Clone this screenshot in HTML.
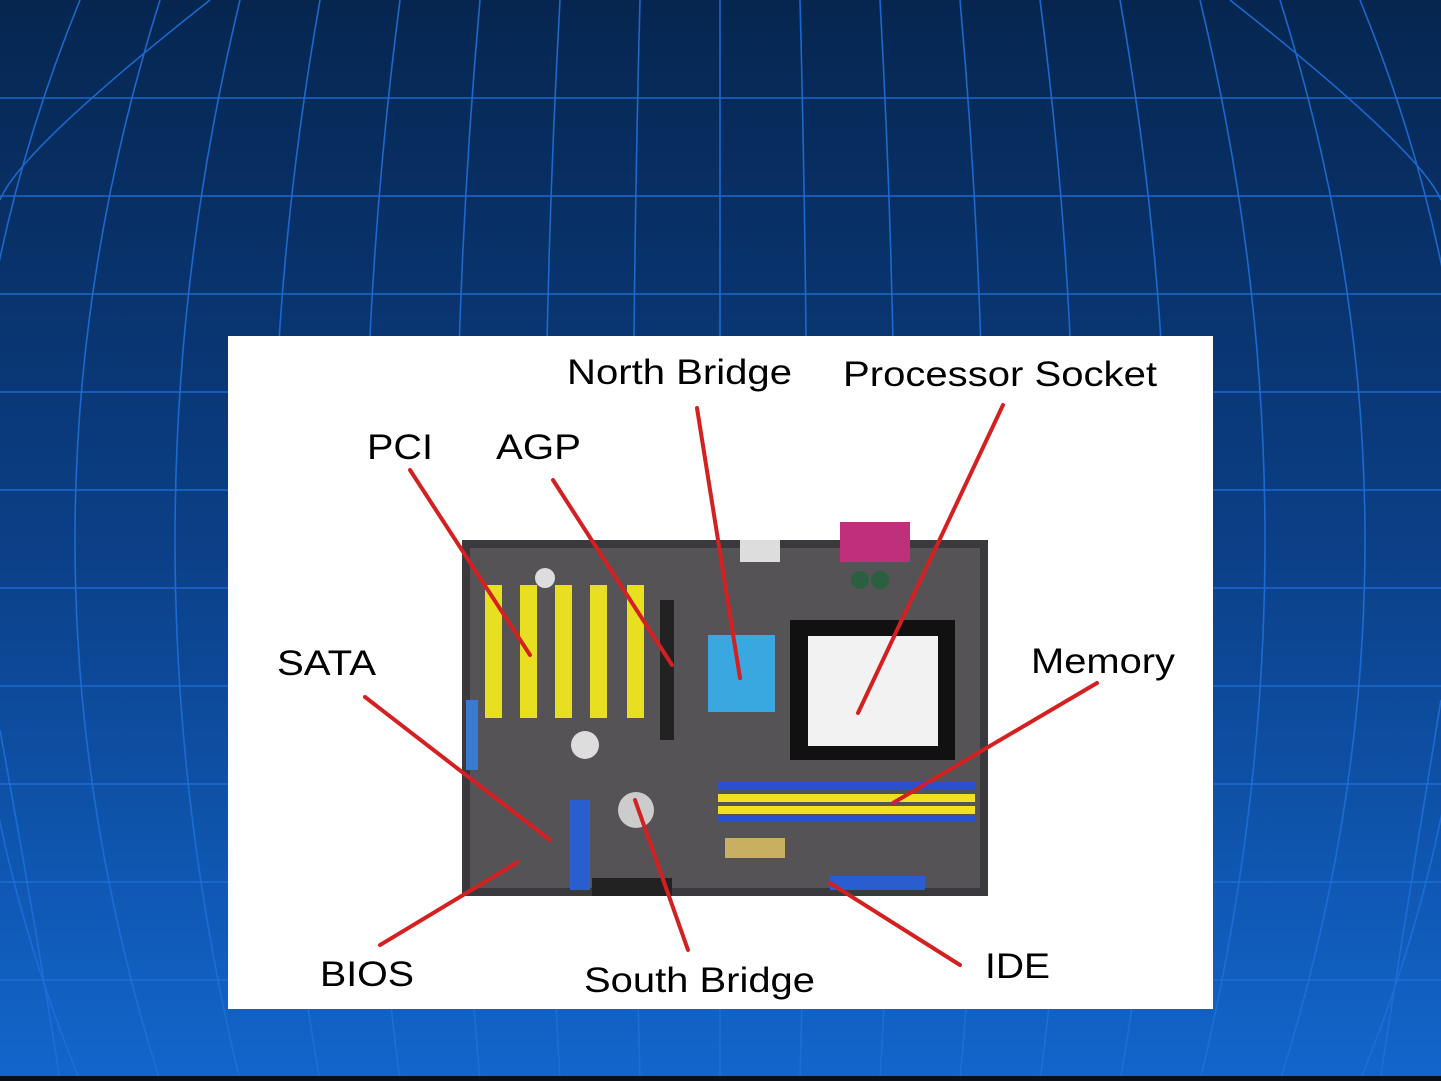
<!DOCTYPE html>
<html><head><meta charset="utf-8"><style>
html,body{margin:0;padding:0;width:1441px;height:1081px;overflow:hidden}
svg{display:block}
text{font-family:"Liberation Sans",sans-serif;font-size:35px;fill:#000}
</style></head><body>
<svg width="1441" height="1081" viewBox="0 0 1441 1081" xmlns="http://www.w3.org/2000/svg">
<defs>
<linearGradient id="bg" x1="0" y1="0" x2="0" y2="1">
<stop offset="0" stop-color="#062650"/>
<stop offset="0.5" stop-color="#0b3f86"/>
<stop offset="1" stop-color="#1266cc"/>
</linearGradient>
</defs>
<rect width="1441" height="1081" fill="url(#bg)"/>
<g stroke="#1f6fd8" stroke-width="1.6" fill="none" opacity="0.9">
<line x1="0" y1="98" x2="1441" y2="98"/>
<line x1="0" y1="196" x2="1441" y2="196"/>
<line x1="0" y1="294" x2="1441" y2="294"/>
<line x1="0" y1="392" x2="1441" y2="392"/>
<line x1="0" y1="490" x2="1441" y2="490"/>
<line x1="0" y1="588" x2="1441" y2="588"/>
<line x1="0" y1="686" x2="1441" y2="686"/>
<line x1="0" y1="784" x2="1441" y2="784"/>
<line x1="0" y1="882" x2="1441" y2="882"/>
<line x1="0" y1="980" x2="1441" y2="980"/>
<path d="M720 0 L720 1081"/>
<path d="M640 0 Q626 540 640 1081"/><path d="M800 0 Q814 540 800 1081"/>
<path d="M560 0 Q530 540 560 1081"/><path d="M880 0 Q910 540 880 1081"/>
<path d="M480 0 Q432 540 480 1081"/><path d="M960 0 Q1008 540 960 1081"/>
<path d="M400 0 Q330 540 400 1081"/><path d="M1040 0 Q1110 540 1040 1081"/>
<path d="M320 0 Q225 540 320 1081"/><path d="M1120 0 Q1215 540 1120 1081"/>
<path d="M240 0 Q110 540 240 1081"/><path d="M1200 0 Q1330 540 1200 1081"/>
<path d="M160 0 Q-10 540 160 1081"/><path d="M1280 0 Q1450 540 1280 1081"/>
<path d="M80 0 Q-140 540 80 1081"/><path d="M1360 0 Q1580 540 1360 1081"/>
<path d="M0 730 Q40 950 60 1081"/><path d="M1441 700 Q1400 950 1380 1081"/>
<path d="M1230 0 Q1420 150 1441 200"/><path d="M210 0 Q20 150 0 200"/>
</g>
<rect x="0" y="1076" width="1441" height="5" fill="#0a0f1a"/>
<rect x="228" y="336" width="985" height="673" fill="#fff"/>
<rect x="462" y="540" width="526" height="356" fill="#3a3a3e"/>
<rect x="470" y="548" width="510" height="340" fill="#555356"/>
<rect x="840" y="522" width="70" height="40" fill="#c0307a"/>
<rect x="740" y="540" width="40" height="22" fill="#ddd"/>
<g fill="#e8df20"><rect x="485" y="585" width="17" height="133"/><rect x="520" y="585" width="17" height="133"/><rect x="555" y="585" width="17" height="133"/><rect x="590" y="585" width="17" height="133"/><rect x="627" y="585" width="17" height="133"/></g>
<rect x="660" y="600" width="14" height="140" fill="#222"/>
<rect x="708" y="635" width="67" height="77" fill="#3aa8e0"/>
<rect x="790" y="620" width="165" height="140" fill="#111"/>
<rect x="808" y="636" width="130" height="110" fill="#f2f2f2"/>
<rect x="718" y="782" width="257" height="8" fill="#2a4fd0"/>
<rect x="718" y="794" width="257" height="8" fill="#f0e020"/>
<rect x="718" y="806" width="257" height="8" fill="#f0e020"/>
<rect x="718" y="816" width="257" height="6" fill="#2a4fd0"/>
<rect x="570" y="800" width="20" height="90" fill="#2a5ed0"/>
<rect x="830" y="876" width="95" height="14" fill="#2a5ed0"/>
<rect x="592" y="878" width="80" height="18" fill="#222"/>
<rect x="725" y="838" width="60" height="20" fill="#c8b060"/>
<circle cx="585" cy="745" r="14" fill="#ddd"/>
<circle cx="636" cy="810" r="18" fill="#ccc"/>
<rect x="466" y="700" width="12" height="70" fill="#3a7ad0"/>
<circle cx="545" cy="578" r="10" fill="#ddd"/>
<circle cx="860" cy="580" r="9" fill="#2a6040"/><circle cx="880" cy="580" r="9" fill="#2a6040"/>
<g stroke="#d42020" stroke-width="4" stroke-linecap="round">
<line x1="697" y1="408" x2="740" y2="678"/>
<line x1="1003" y1="405" x2="858" y2="713"/>
<line x1="410" y1="470" x2="530" y2="655"/>
<line x1="553" y1="480" x2="672" y2="665"/>
<line x1="365" y1="697" x2="550" y2="840"/>
<line x1="1097" y1="683" x2="893" y2="803"/>
<line x1="380" y1="945" x2="518" y2="862"/>
<line x1="688" y1="950" x2="635" y2="800"/>
<line x1="960" y1="965" x2="830" y2="883"/>
</g>
<text x="567" y="384" textLength="225" lengthAdjust="spacingAndGlyphs">North Bridge</text>
<text x="843" y="386" textLength="314" lengthAdjust="spacingAndGlyphs">Processor Socket</text>
<text x="367" y="459" textLength="66" lengthAdjust="spacingAndGlyphs">PCI</text>
<text x="496" y="459" textLength="85" lengthAdjust="spacingAndGlyphs">AGP</text>
<text x="277" y="675" textLength="99" lengthAdjust="spacingAndGlyphs">SATA</text>
<text x="1031" y="673" textLength="144" lengthAdjust="spacingAndGlyphs">Memory</text>
<text x="320" y="986" textLength="94" lengthAdjust="spacingAndGlyphs">BIOS</text>
<text x="584" y="992" textLength="231" lengthAdjust="spacingAndGlyphs">South Bridge</text>
<text x="985" y="978" textLength="65" lengthAdjust="spacingAndGlyphs">IDE</text>
</svg>
</body></html>
